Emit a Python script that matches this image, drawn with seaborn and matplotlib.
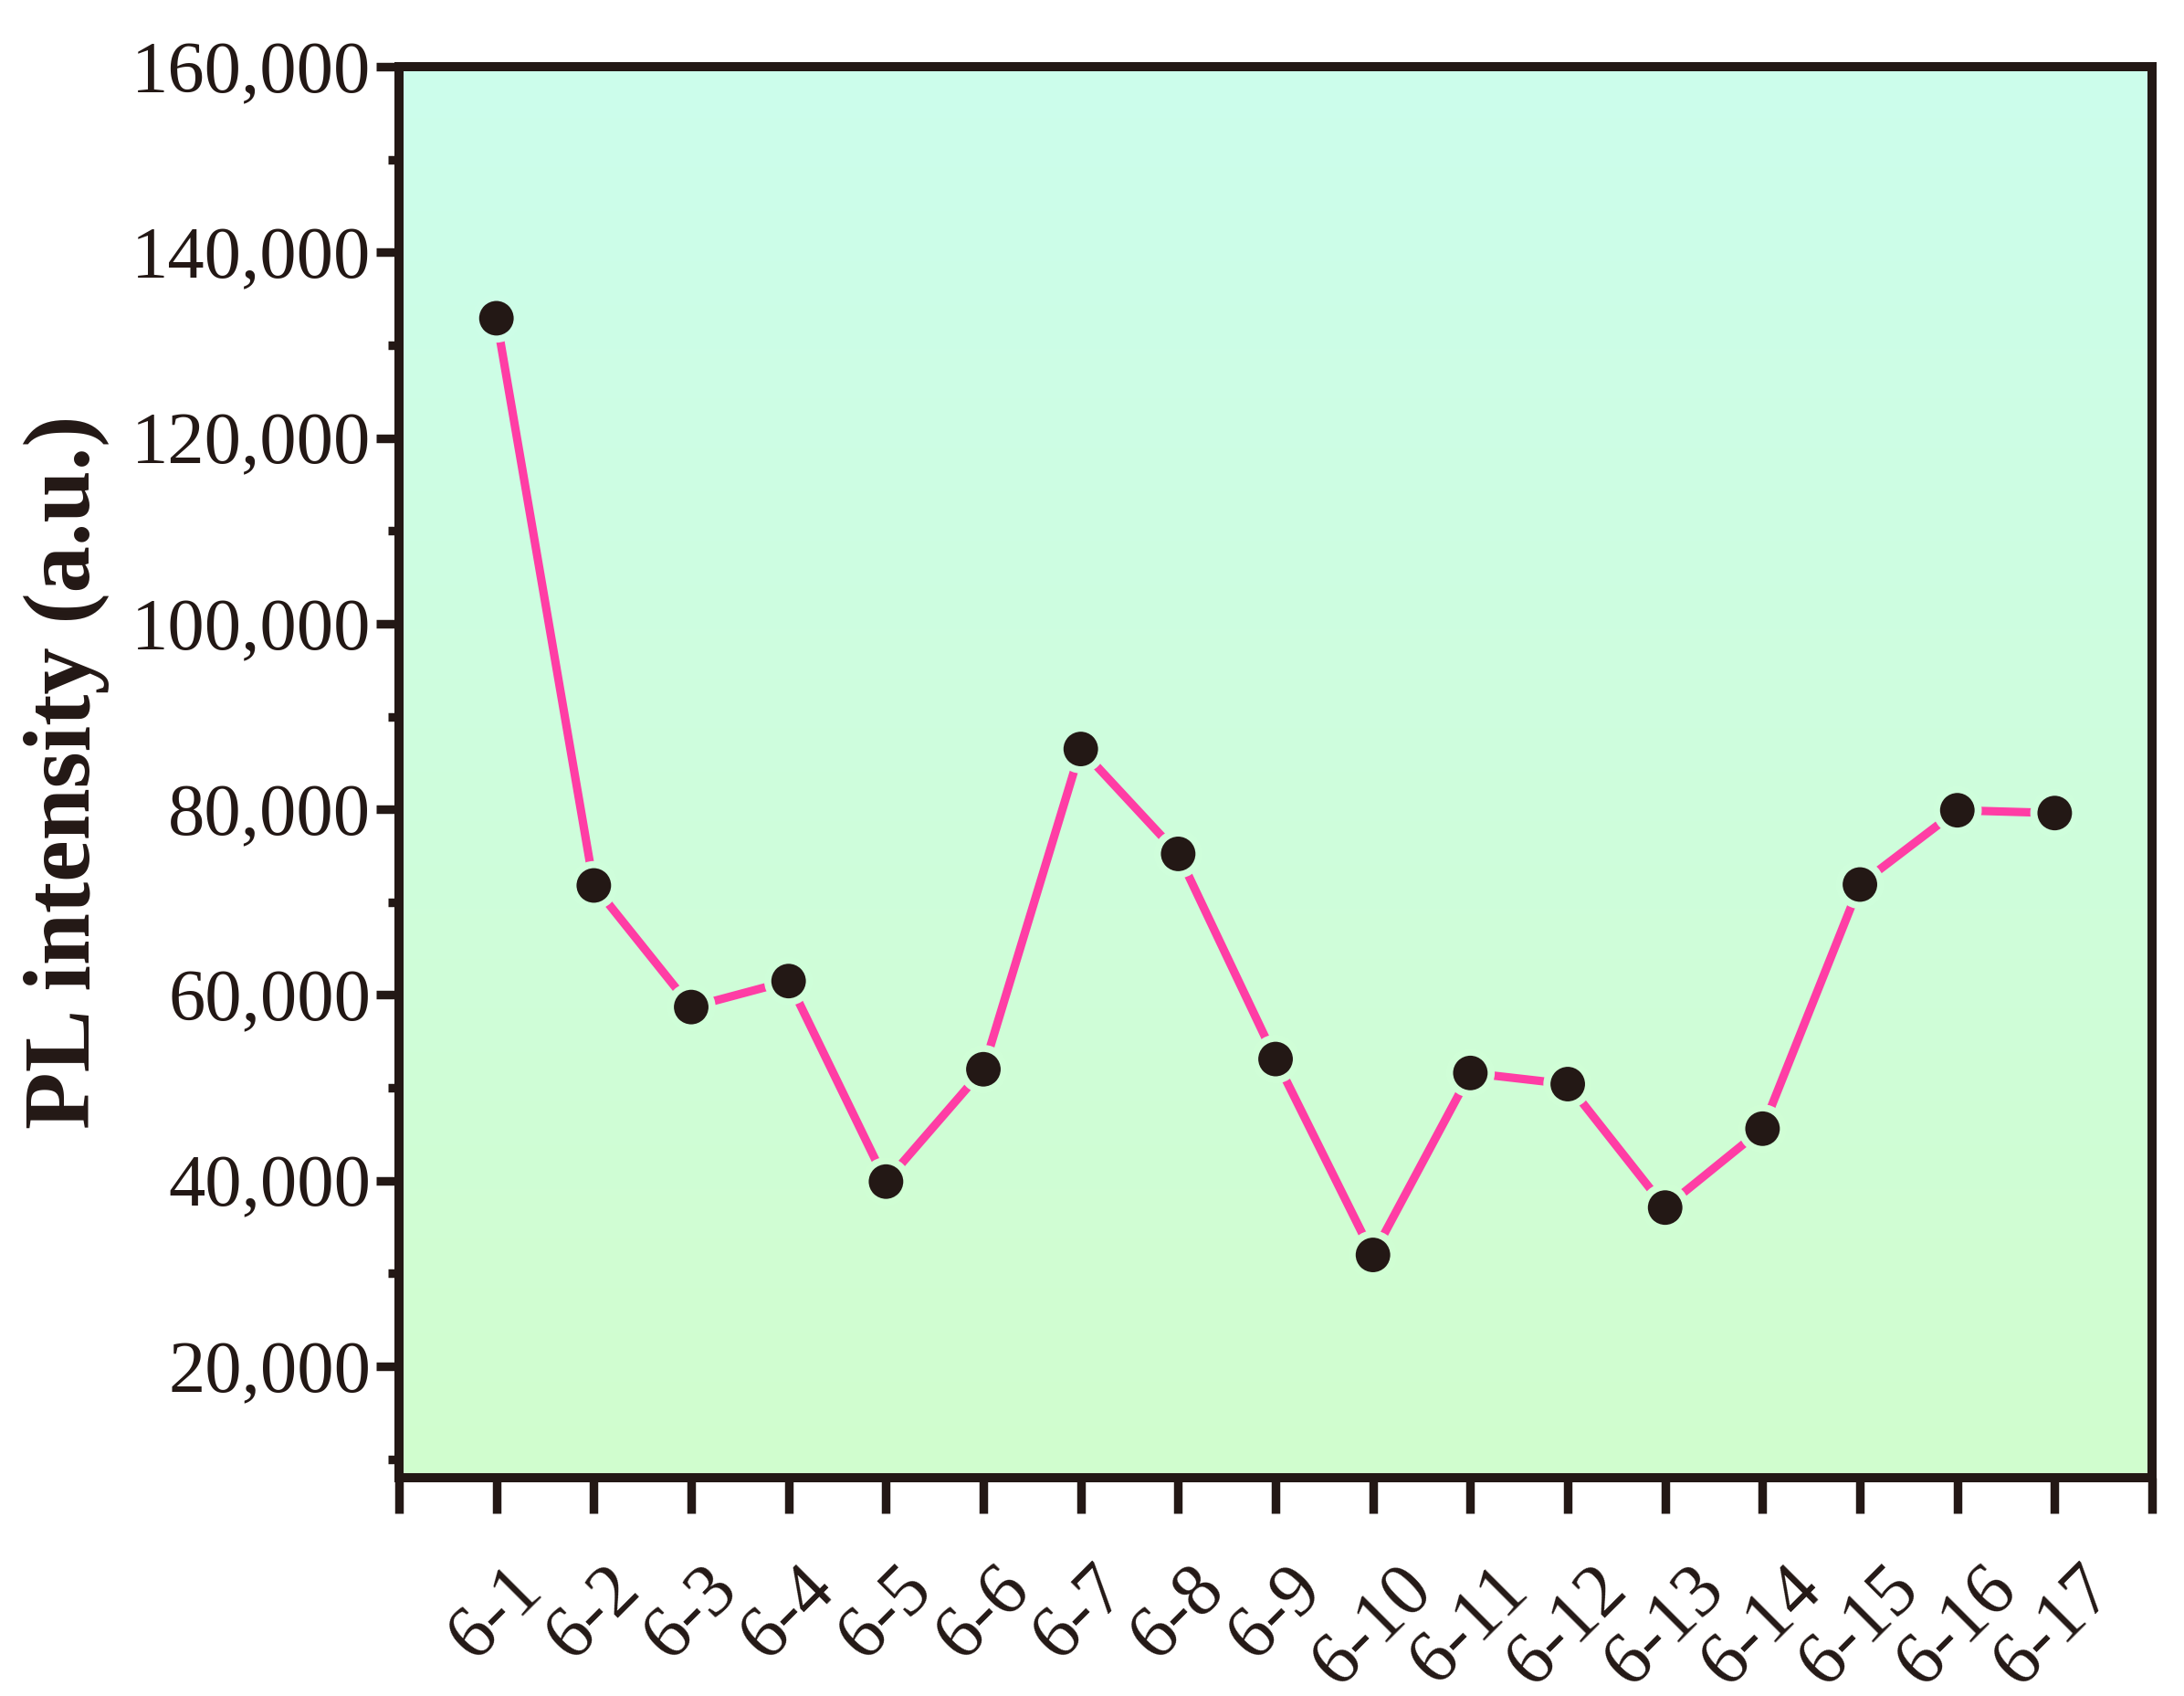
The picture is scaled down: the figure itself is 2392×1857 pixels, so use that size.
import numpy as np
import matplotlib
matplotlib.use("Agg")
import matplotlib.pyplot as plt
from matplotlib.colors import LinearSegmentedColormap, to_rgb
import seaborn as sns
import pandas as pd

categories = ["6-1", "6-2", "6-3", "6-4", "6-5", "6-6", "6-7", "6-8", "6-9",
              "6-10", "6-11", "6-12", "6-13", "6-14", "6-15", "6-16", "6-17"]
intensity = [132900, 71800, 58700, 61500, 39900, 52000, 86500, 75200, 53100,
             32000, 51600, 50400, 37100, 45600, 71900, 79900, 79600]
y_ticks = [20000, 40000, 60000, 80000, 100000, 120000, 140000, 160000]
y_tick_labels = ["20,000", "40,000", "60,000", "80,000", "100,000",
                 "120,000", "140,000", "160,000"]

sns.set_theme(style="white")
plt.rcParams["font.family"] = ["Liberation Serif", "DejaVu Serif"]

dark = "#231815"
pink = "#FF3DA5"
top_c = "#CCFDEC"
bot_c = "#D1FECE"

fig = plt.figure(figsize=(11.96, 9.285), dpi=200)
ax = fig.add_axes([0.1827, 0.1287, 0.8027, 0.832])

ymin, ymax = 8000, 160000
xmin, xmax = 0, 18

# gradient background
cmap = LinearSegmentedColormap.from_list("bg", [bot_c, top_c])
grad = np.linspace(0, 1, 256).reshape(-1, 1)
ax.imshow(grad, cmap=cmap, origin="lower", aspect="auto",
          extent=[xmin, xmax, ymin, ymax], zorder=0, interpolation="bicubic")

df = pd.DataFrame({"pos": np.arange(1, len(categories) + 1),
                   "cat": categories, "val": intensity})

sns.lineplot(data=df, x="pos", y="val", sort=False, ax=ax, color=pink,
             linewidth=3.3, zorder=2)

# marker edge colour matches local background (gap around symbols)
bt = np.array(to_rgb(bot_c))
tp = np.array(to_rgb(top_c))
fr = (df["val"].to_numpy() - ymin) / (ymax - ymin)
edge_cols = [tuple(bt + (tp - bt) * f) for f in fr]
ax.scatter(df["pos"], df["val"], s=270, color=dark, edgecolors=edge_cols,
           linewidths=2.8, zorder=3)

ax.set_xlim(xmin, xmax)
ax.set_ylim(ymin, ymax)

ax.set_xticks(np.arange(xmin, xmax + 1))
ax.set_xticklabels([""] + categories + [""], rotation=45, ha="center",
                   va="top", fontsize=29.5, color=dark)
ax.set_yticks(y_ticks)
ax.set_yticklabels(y_tick_labels, fontsize=29, color=dark)
ax.set_yticks(np.arange(10000, 160001, 10000), minor=True)

ax.tick_params(axis="x", which="major", direction="out", length=14,
               width=3.4, color=dark, pad=16, bottom=True, top=False)
ax.tick_params(axis="y", which="major", direction="out", length=9,
               width=3.4, color=dark, pad=2, left=True, right=False)
ax.tick_params(axis="y", which="minor", direction="out", length=4.5,
               width=3.4, color=dark, left=True, right=False)

for s in ax.spines.values():
    s.set_linewidth(3.6)
    s.set_color(dark)
    s.set_visible(True)
    s.set_zorder(5)

ax.set_xlabel("")
ax.set_ylabel("PL intensity (a.u.)", fontsize=37, fontweight="bold",
              color=dark)
ax.yaxis.set_label_coords(-0.165, 0.5)

fig.savefig("out.png", dpi=200, facecolor="white")
